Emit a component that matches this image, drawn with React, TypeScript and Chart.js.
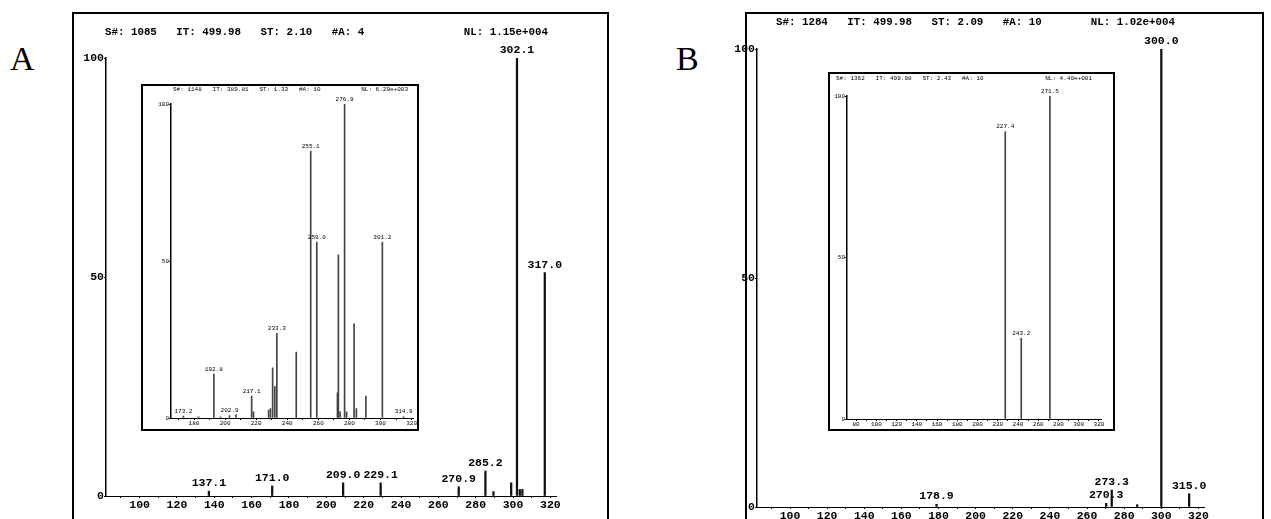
import React, { useEffect, useRef } from "react";
import { Chart, registerables } from "chart.js";
Chart.register(...registerables);

// ---------- Panel A, main spectrum ----------
const mainA_mz = [137.1, 171.0, 209.0, 229.1, 270.9, 285.2, 289.5, 299.0, 302.1, 303.6, 305.0, 317.0];
const mainA_int = [1.1, 2.3, 3.0, 3.0, 2.1, 5.7, 1.0, 3.0, 100, 1.5, 1.5, 51];
const mainA_labeled = [137.1, 171.0, 209.0, 229.1, 270.9, 285.2, 302.1, 317.0];

// ---------- Panel A, inset spectrum ----------
const insetA_mz = [173.2, 183.0, 192.8, 197.0, 202.9, 207.0, 217.1, 218.3, 228.0, 229.2, 230.6, 232.0, 233.3, 245.8, 255.1, 259.0, 272.3, 272.9, 274.0, 276.9, 278.2, 283.0, 284.5, 290.6, 301.2, 314.9];
const insetA_int = [0.6, 0.4, 14, 0.4, 0.8, 1.0, 7, 2, 2.5, 3, 16, 10, 27, 21, 85, 56, 8, 52, 2, 100, 2, 30, 3, 7, 56, 0.4];
const insetA_labeled = [173.2, 192.8, 202.9, 217.1, 233.3, 255.1, 259.0, 276.9, 301.2, 314.9];

// ---------- Panel B, main spectrum ----------
const mainB_mz = [178.9, 270.3, 273.3, 287.0, 300.0, 315.0];
const mainB_int = [0.6, 0.8, 3.7, 0.5, 100, 2.9];
const mainB_labeled = [178.9, 270.3, 273.3, 300.0, 315.0];

// ---------- Panel B, inset spectrum ----------
const insetB_mz = [227.4, 243.2, 271.5];
const insetB_int = [89, 25, 100];
const insetB_labeled = [227.4, 243.2, 271.5];

// ---------- ticks ----------
const mainXTicks = [90, 100, 110, 120, 130, 140, 150, 160, 170, 180, 190, 200, 210, 220, 230, 240, 250, 260, 270, 280, 290, 300, 310, 320];
const insetAXTicks = [170, 180, 190, 200, 210, 220, 230, 240, 250, 260, 270, 280, 290, 300, 310, 320];
const insetBXTicks = [80, 90, 100, 110, 120, 130, 140, 150, 160, 170, 180, 190, 200, 210, 220, 230, 240, 250, 260, 270, 280, 290, 300, 310, 320];
const yTicks = [0, 50, 100];

// ---------- header texts ----------
const headerA_left = "S#: 1085   IT: 499.98   ST: 2.10   #A: 4";
const headerA_right = "NL: 1.15e+004";
const headerAi_left = "S#: 1148   IT: 389.81   ST: 1.33   #A: 10";
const headerAi_right = "NL: 6.29e+003";
const headerB_left = "S#: 1284   IT: 499.98   ST: 2.09   #A: 10";
const headerB_right = "NL: 1.02e+004";
const headerBi_left = "S#: 1362   IT: 499.98   ST: 2.43   #A: 10";
const headerBi_right = "NL: 4.40e+001";

const MONO = '"Liberation Mono", "DejaVu Sans Mono", monospace';

type SpecProps = {
  left: number; top: number; width: number; height: number;
  padTop: number; padRight: number; yWidth: number; xHeight: number;
  xMin: number; xMax: number; xTicks: number[];
  mz: number[]; inten: number[]; labeled: number[];
  hLeft: string; hRight: string; hY: number; hLeftX: number; hRightX: number;
  tickSize: number; labelSize: number; headerSize: number; bold: boolean;
  barWidth: number; barColor: string; labelGap: number; tickLen: number;
};

function Spectrum(p: SpecProps) {
  const ref = useRef<HTMLCanvasElement>(null);
  useEffect(() => {
    const w = p.bold ? "bold" : "normal";
    const annot = {
      id: "annot",
      afterDatasetsDraw(chart: any) {
        const c = chart.ctx;
        const xs = chart.scales.x;
        const ys = chart.scales.y;
        c.save();
        c.fillStyle = "#000";
        c.font = `${w} ${p.labelSize}px ${MONO}`;
        c.textAlign = "center";
        c.textBaseline = "bottom";
        p.labeled.forEach((m) => {
          const i = p.mz.indexOf(m);
          const x = xs.getPixelForValue(m);
          const y = ys.getPixelForValue(p.inten[i]);
          c.fillText(m.toFixed(1), x, y - p.labelGap);
        });
        c.font = `${w} ${p.headerSize}px ${MONO}`;
        c.textBaseline = "middle";
        c.textAlign = "left";
        c.fillText(p.hLeft, p.hLeftX, p.hY);
        c.textAlign = "right";
        c.fillText(p.hRight, p.hRightX, p.hY);
        c.restore();
      },
    };
    const tickFont = { family: MONO, size: p.tickSize, weight: (p.bold ? "bold" : "normal") as any };
    const chart = new Chart(ref.current!, {
      type: "bar",
      data: {
        datasets: [
          {
            data: p.mz.map((m, i) => ({ x: m, y: p.inten[i] })),
            backgroundColor: p.barColor,
            borderWidth: 0,
            barThickness: p.barWidth,
          } as any,
        ],
      },
      options: {
        animation: false,
        responsive: false,
        devicePixelRatio: 1,
        layout: { padding: { top: p.padTop, right: p.padRight, left: 0, bottom: 0 } },
        plugins: { legend: { display: false }, tooltip: { enabled: false }, title: { display: false } },
        scales: {
          x: {
            type: "linear",
            offset: false,
            min: p.xMin,
            max: p.xMax,
            afterBuildTicks: (s: any) => {
              s.ticks = p.xTicks.map((v) => ({ value: v }));
            },
            afterFit: (s: any) => {
              s.height = p.xHeight;
            },
            grid: { display: true, offset: false, drawOnChartArea: false, drawTicks: true, tickLength: p.tickLen, color: "#000" },
            border: { display: true, color: "#000", width: 1 },
            ticks: {
              font: tickFont,
              color: "#000",
              padding: 0,
              maxRotation: 0,
              autoSkip: false,
              callback: (v: any) => (Number(v) % 20 === 0 ? String(v) : ""),
            },
          },
          y: {
            type: "linear",
            min: 0,
            max: 100,
            afterBuildTicks: (s: any) => {
              s.ticks = yTicks.map((v) => ({ value: v }));
            },
            afterFit: (s: any) => {
              s.width = p.yWidth;
            },
            grid: { display: true, drawOnChartArea: false, drawTicks: true, tickLength: 2, color: "#000" },
            border: { display: true, color: "#000", width: 1.5 },
            ticks: { font: tickFont, color: "#000", padding: 0 },
          },
        },
      },
      plugins: [annot],
    });
    return () => chart.destroy();
  }, []);
  return (
    <canvas
      ref={ref}
      width={p.width}
      height={p.height}
      style={{ position: "absolute", left: p.left, top: p.top, width: p.width, height: p.height }}
    />
  );
}

const frame = (l: number, t: number, w: number, h: number, bw: number): React.CSSProperties => ({
  position: "absolute",
  left: l,
  top: t,
  width: w,
  height: h,
  border: `${bw}px solid #000`,
  boxSizing: "border-box",
  background: "#fff",
});

export default function App() {
  return (
    <div style={{ position: "absolute", left: 0, top: 0, width: 1271, height: 519, overflow: "hidden", background: "#fff" }}>
      {/* Panel labels */}
      <div style={{ position: "absolute", left: 10, top: 40, font: '34px "Liberation Serif", serif', color: "#000" }}>A</div>
      <div style={{ position: "absolute", left: 676, top: 40, font: '34px "Liberation Serif", serif', color: "#000" }}>B</div>

      {/* Panel A */}
      <div style={frame(72, 12, 537, 530, 2)} />
      <Spectrum
        left={76} top={14} width={490} height={502}
        padTop={44} padRight={10} yWidth={30} xHeight={20}
        xMin={82} xMax={323} xTicks={mainXTicks}
        mz={mainA_mz} inten={mainA_int} labeled={mainA_labeled}
        hLeft={headerA_left} hRight={headerA_right} hY={18} hLeftX={29} hRightX={472}
        tickSize={11.5} labelSize={11.5} headerSize={10.8} bold={true}
        barWidth={1.6} barColor="#111" labelGap={2} tickLen={2}
      />
      <div style={frame(141, 84, 278, 347, 2)} />
      <Spectrum
        left={143} top={86} width={274} height={343}
        padTop={18} padRight={3} yWidth={28} xHeight={11}
        xMin={165.2} xMax={321} xTicks={insetAXTicks}
        mz={insetA_mz} inten={insetA_int} labeled={insetA_labeled}
        hLeft={headerAi_left} hRight={headerAi_right} hY={3} hLeftX={30} hRightX={265}
        tickSize={6} labelSize={6} headerSize={6} bold={false}
        barWidth={1} barColor="#444" labelGap={2} tickLen={2}
      />

      {/* Panel B */}
      <div style={frame(745, 12, 519, 530, 2)} />
      <Spectrum
        left={727} top={4} width={487} height={515}
        padTop={45} padRight={10} yWidth={30} xHeight={12}
        xMin={82.2} xMax={323} xTicks={mainXTicks}
        mz={mainB_mz} inten={mainB_int} labeled={mainB_labeled}
        hLeft={headerB_left} hRight={headerB_right} hY={18} hLeftX={49} hRightX={448}
        tickSize={11.5} labelSize={11.5} headerSize={10.8} bold={true}
        barWidth={1.6} barColor="#111" labelGap={2} tickLen={2}
      />
      <div style={frame(828, 72, 287, 359, 2)} />
      <Spectrum
        left={830} top={74} width={283} height={355}
        padTop={22} padRight={12} yWidth={17} xHeight={10}
        xMin={71} xMax={322} xTicks={insetBXTicks}
        mz={insetB_mz} inten={insetB_int} labeled={insetB_labeled}
        hLeft={headerBi_left} hRight={headerBi_right} hY={4} hLeftX={6} hRightX={262}
        tickSize={6} labelSize={6} headerSize={6} bold={false}
        barWidth={1} barColor="#444" labelGap={2} tickLen={2}
      />
    </div>
  );
}
